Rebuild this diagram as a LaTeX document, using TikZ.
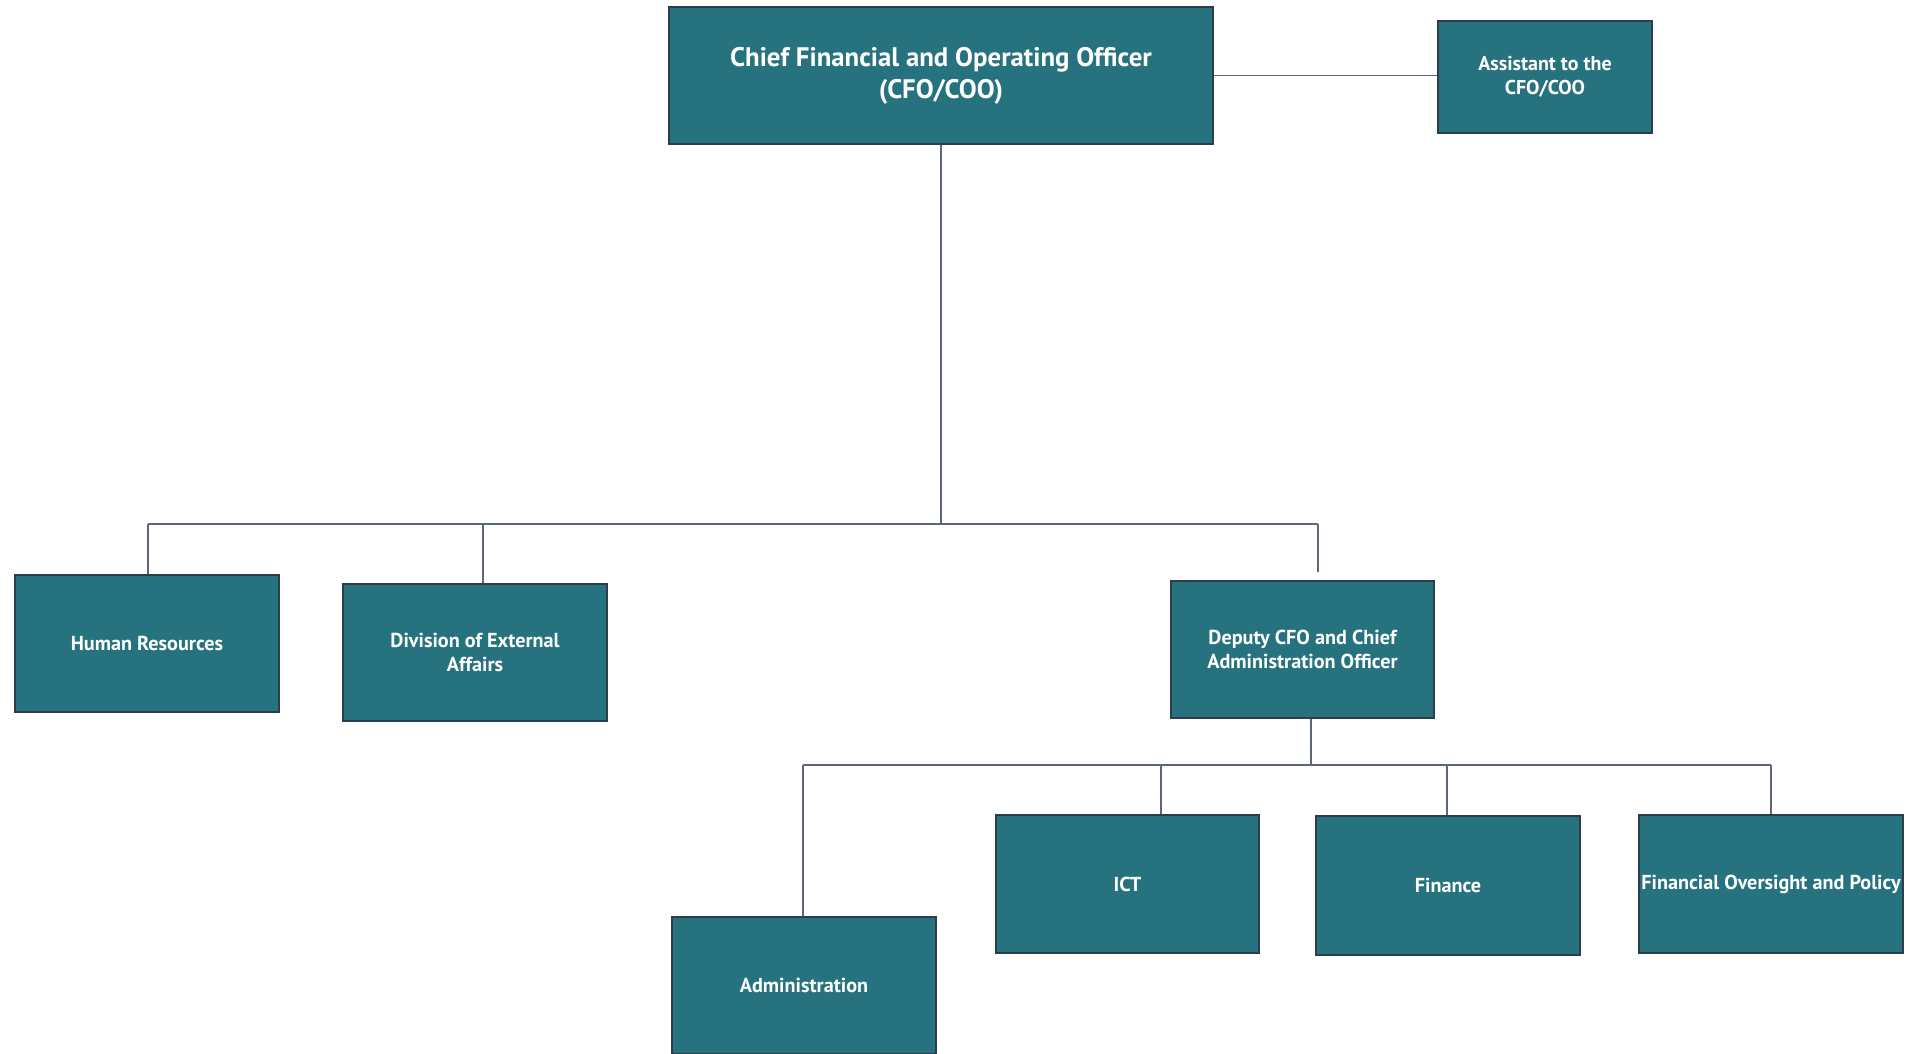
\documentclass[tikz,border=0pt]{standalone}
\usepackage{fontspec}
\setmainfont{PT Sans}
\usetikzlibrary{calc}
\definecolor{boxfill}{HTML}{26737F}
\definecolor{boxedge}{HTML}{2C3E4C}
\definecolor{linkc}{HTML}{5C6779}
\tikzset{
  unitbox/.style={draw=boxedge, line width=1.2pt, fill=boxfill, text=white,
    font=\bfseries\fontsize{20.2}{24.5}\selectfont, align=center,
    minimum width=264pt, minimum height=137pt, inner sep=1pt},
  link/.style={draw=linkc, line width=1.3pt}
}
\begin{document}
\begin{tikzpicture}[x=1pt,y=-1pt]
\useasboundingbox (0,0) rectangle (1919,1053);
\node[unitbox, minimum width=544pt, font=\bfseries\fontsize{26.8}{32}\selectfont] (cfo) at (941,75.5) {Chief Financial and Operating Officer\\(CFO/COO)};
\node[unitbox, minimum width=214pt, minimum height=112pt, font=\bfseries\fontsize{20}{24}\selectfont] (asst) at (1545,77) {Assistant to the\\CFO/COO};
\node[unitbox] (hr) at (147,643.5) {Human Resources};
\node[unitbox] (dea) at (475,652.5) {Division of External\\Affairs};
\node[unitbox, minimum width=263pt] (dep) at (1302.5,649.5) {Deputy CFO and Chief\\Administration Officer};
\node[unitbox] (adm) at (804,985.5) {Administration};
\node[unitbox, minimum width=263pt, minimum height=138pt] (ict) at (1127.5,884) {ICT};
\node[unitbox, minimum height=139pt] (fin) at (1448,885.5) {Finance};
\node[unitbox, minimum height=138pt] (fop) at (1771,884) {Financial Oversight and Policy};

\coordinate (busA) at (0,524);
\coordinate (busB) at (0,765);

% top
\draw[link] (cfo.east) -- (cfo.east -| asst.west);
\draw[link] (cfo.south) -- (cfo.south |- busA);
\draw[link] ([xshift=1pt]hr.north |- busA) -- ([xshift=15.5pt]dep.north |- busA);
\draw[link] ([xshift=1pt]hr.north) -- ([xshift=1pt]hr.north |- busA);
\draw[link] ([xshift=8pt]dea.north) -- ([xshift=8pt]dea.north |- busA);
\draw[link] ([xshift=15.5pt,yshift=8pt]dep.north) -- ([xshift=15.5pt]dep.north |- busA);

% lower
\draw[link] ([xshift=8.5pt]dep.south) -- ([xshift=8.5pt]dep.south |- busB);
\draw[link] ([xshift=-1pt]adm.north |- busB) -- (fop.north |- busB);
\draw[link] ([xshift=-1pt]adm.north) -- ([xshift=-1pt]adm.north |- busB);
\draw[link] ([xshift=33.5pt]ict.north) -- ([xshift=33.5pt]ict.north |- busB);
\draw[link] ([xshift=-1pt]fin.north) -- ([xshift=-1pt]fin.north |- busB);
\draw[link] (fop.north) -- (fop.north |- busB);
\end{tikzpicture}
\end{document}
